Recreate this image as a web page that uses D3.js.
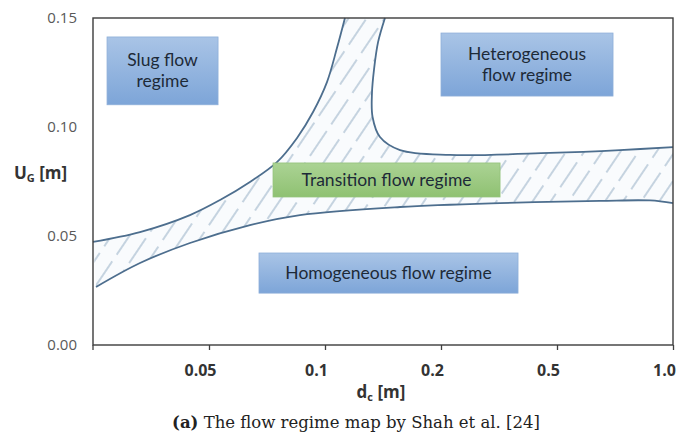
<!DOCTYPE html>
<html>
<head>
<meta charset="utf-8">
<script src="https://cdn.jsdelivr.net/npm/d3@7"></script>
<style>
  body { margin: 0; background: #fff; }
  svg { display: block; }
  .box text { font-family: Lato, "Open Sans", sans-serif; font-size: 17.5px; fill: #1d2a38; }
</style>
</head>
<body>
<div id="chart"></div>
<script>
// x positions are category slots on the d_c axis (0 = left edge, 1..5 = labelled ticks)
const xTickPos = [1, 2, 3, 4, 5];
const xTickLabels = ["0.05", "0.1", "0.2", "0.5", "1.0"];
const yTicks = [0, 0.05, 0.10, 0.15];

// upper-left boundary of transition zone (slug side)
const slugBoundX = [0, 0.405, 0.836, 1.095, 1.353, 1.586, 1.759, 1.897, 2.017, 2.103, 2.172];
const slugBoundY = [0.0473, 0.0518, 0.0596, 0.0665, 0.0748, 0.0839, 0.0950, 0.1069, 0.1206, 0.1362, 0.15];

// upper-right boundary (heterogeneous side)
const hetBoundX = [2.517, 2.457, 2.422, 2.405, 2.41, 2.474, 2.647, 3.078, 3.94, 4.543, 5];
const hetBoundY = [0.15, 0.1388, 0.1261, 0.1156, 0.1046, 0.0954, 0.0894, 0.0872, 0.0881, 0.0894, 0.0908];

// lower boundary (homogeneous side)
const homBoundX = [0.026, 0.405, 0.836, 1.353, 1.784, 2.647, 3.509, 4.371, 4.802, 5];
const homBoundY = [0.0266, 0.0376, 0.0468, 0.055, 0.0596, 0.0633, 0.0651, 0.0661, 0.0663, 0.0651];

// regime labels: [x0, x1], [y0, y1] in data units, lines of text
const regimeNames = [["Slug flow", "regime"], ["Heterogeneous", "flow regime"], ["Transition flow regime"], ["Homogeneous flow regime"]];
const regimeX = [[0.121, 1.078], [3.0, 4.483], [1.552, 3.509], [1.431, 3.664]];
const regimeY = [[0.1102, 0.1413], [0.1142, 0.1431], [0.0679, 0.0835], [0.0238, 0.0422]];
const regimeKind = ["blue", "blue", "green", "blue"];

const margin = {top: 18, right: 7, bottom: 87, left: 93};
const width = 680 - margin.left - margin.right;
const height = 432 - margin.top - margin.bottom;

const svg = d3.select("#chart").append("svg")
  .attr("width", 680)
  .attr("height", 432);

const defs = svg.append("defs");

const blueGrad = defs.append("linearGradient").attr("id", "blueGrad")
  .attr("x1", 0).attr("y1", 0).attr("x2", 0).attr("y2", 1);
blueGrad.append("stop").attr("offset", "0%").attr("stop-color", "#a9c4e6");
blueGrad.append("stop").attr("offset", "100%").attr("stop-color", "#7da5d8");

const greenGrad = defs.append("linearGradient").attr("id", "greenGrad")
  .attr("x1", 0).attr("y1", 0).attr("x2", 0).attr("y2", 1);
greenGrad.append("stop").attr("offset", "0%").attr("stop-color", "#abd394");
greenGrad.append("stop").attr("offset", "100%").attr("stop-color", "#8fc172");

const hatch = defs.append("pattern").attr("id", "hatch")
  .attr("patternUnits", "userSpaceOnUse")
  .attr("width", 15).attr("height", 38)
  .attr("patternTransform", "rotate(34)");
hatch.append("line")
  .attr("x1", 2).attr("y1", 1).attr("x2", 2).attr("y2", 31)
  .attr("stroke", "#9ab2c7").attr("stroke-width", 1.1);

const g = svg.append("g")
  .attr("transform", `translate(${margin.left},${margin.top})`);

const x = d3.scaleLinear().domain([0, 5]).range([0, width]);
const y = d3.scaleLinear().domain([0, 0.15]).range([height, 0]);

const toPts = (xs, ys) => xs.map((d, i) => [x(d), y(ys[i])]);
const slugPts = toPts(slugBoundX, slugBoundY);
const hetPts = toPts(hetBoundX, hetBoundY);
const homPts = toPts(homBoundX, homBoundY);

const line = d3.line().curve(d3.curveCatmullRom.alpha(0.5));

// hatched transition zone
const zonePath = line(slugPts) + "L" + line(hetPts).slice(1) + "L" + line(homPts.slice().reverse()).slice(1) + "Z";
g.append("path")
  .attr("d", zonePath)
  .attr("fill", "#f9fbfd");
g.append("path")
  .attr("d", zonePath)
  .attr("fill", "url(#hatch)");

// boundary curves
[slugPts, hetPts, homPts].forEach(pts => {
  g.append("path")
    .attr("d", line(pts))
    .attr("fill", "none")
    .attr("stroke", "#4d6e8e")
    .attr("stroke-width", 1.8);
});

// regime label boxes
regimeNames.forEach((lines, i) => {
  const bx0 = x(regimeX[i][0]), bx1 = x(regimeX[i][1]);
  const by0 = y(regimeY[i][1]), by1 = y(regimeY[i][0]);
  const box = g.append("g").attr("class", "box");
  box.append("rect")
    .attr("x", bx0).attr("y", by0)
    .attr("width", bx1 - bx0).attr("height", by1 - by0)
    .attr("fill", regimeKind[i] === "blue" ? "url(#blueGrad)" : "url(#greenGrad)")
    .attr("stroke", regimeKind[i] === "blue" ? "#8eafd9" : "#93c27a")
    .attr("stroke-width", 0.8);
  const cy = (by0 + by1) / 2;
  const lh = 21;
  lines.forEach((t, j) => {
    box.append("text")
      .attr("x", (bx0 + bx1) / 2)
      .attr("y", cy + (j - (lines.length - 1) / 2) * lh)
      .attr("dy", "0.35em")
      .attr("text-anchor", "middle")
      .text(t);
  });
});

// axes
const xAxis = d3.axisBottom(x)
  .tickValues(xTickPos)
  .tickFormat((d, i) => xTickLabels[i])
  .tickSize(5)
  .tickPadding(15);
const xAxisG = g.append("g")
  .attr("transform", `translate(0,${height})`)
  .call(xAxis);
xAxisG.select(".domain").remove();
xAxisG.selectAll("line").attr("stroke", "#404040").attr("stroke-width", 1.3);
xAxisG.selectAll("text")
  .attr("dx", -9)
  .style("font-family", "'Open Sans', sans-serif")
  .style("font-size", "16px")
  .style("font-weight", "bold")
  .style("fill", "#333");
xAxisG.append("line")
  .attr("x1", 0).attr("x2", 0).attr("y1", 0).attr("y2", 5)
  .attr("stroke", "#404040").attr("stroke-width", 1.3);

const yAxis = d3.axisLeft(y)
  .tickValues(yTicks)
  .tickFormat(d3.format(".2f"))
  .tickSize(0)
  .tickPadding(16);
const yAxisG = g.append("g").call(yAxis);
yAxisG.select(".domain").remove();
yAxisG.selectAll("text")
  .style("font-family", "'Open Sans', sans-serif")
  .style("font-size", "15px")
  .style("fill", "#595959");

// plot frame
g.append("rect")
  .attr("width", width).attr("height", height)
  .attr("fill", "none")
  .attr("stroke", "#3c3c3c")
  .attr("stroke-width", 1.4);

// axis titles
const yTitle = svg.append("text")
  .attr("x", 14).attr("y", 179)
  .style("font-family", "'Open Sans', sans-serif")
  .style("font-size", "17px")
  .style("font-weight", "bold")
  .style("fill", "#333");
yTitle.append("tspan").text("U");
yTitle.append("tspan").attr("dy", 3).style("font-size", "11px").text("G");
yTitle.append("tspan").attr("dy", -3).text(" [m]");

const xTitle = svg.append("text")
  .attr("x", 381).attr("y", 398)
  .attr("text-anchor", "middle")
  .style("font-family", "'Open Sans', sans-serif")
  .style("font-size", "17px")
  .style("font-weight", "bold")
  .style("fill", "#333");
xTitle.append("tspan").text("d");
xTitle.append("tspan").attr("dy", 3).style("font-size", "11px").text("c");
xTitle.append("tspan").attr("dy", -3).text(" [m]");

// caption
const caption = svg.append("text")
  .attr("x", 356).attr("y", 428)
  .attr("text-anchor", "middle")
  .style("font-family", "'DejaVu Serif', serif")
  .style("font-size", "16.5px")
  .style("fill", "#222");
caption.append("tspan").style("font-weight", "bold").text("(a)");
caption.append("tspan").text(" The flow regime map by Shah et al. [24]");
</script>
</body>
</html>
